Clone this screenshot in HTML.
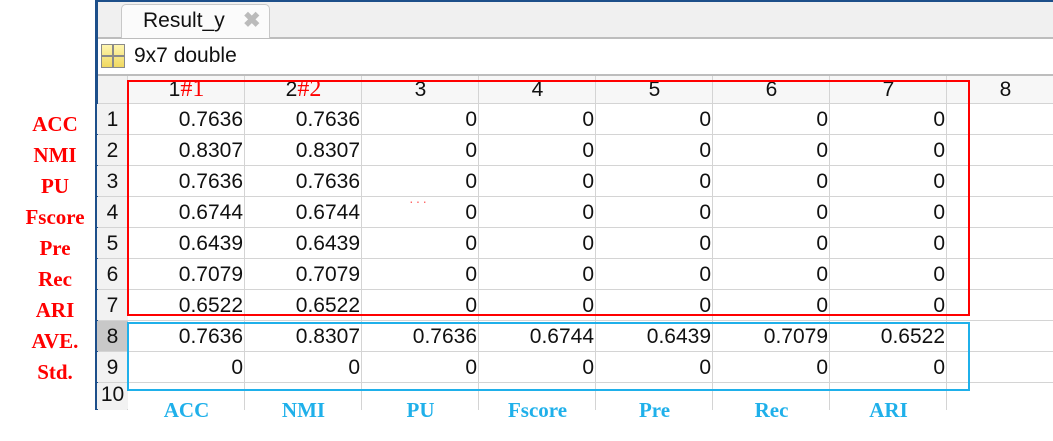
<!DOCTYPE html>
<html><head><meta charset="utf-8"><style>
body{margin:0;width:1053px;height:441px;background:#fff;position:relative;overflow:hidden;font-family:"Liberation Sans",sans-serif}
.a{position:absolute}
.cell{position:absolute;font-size:21px;color:#111;text-align:right;box-sizing:border-box;padding-right:2px;line-height:31px}
.rh{position:absolute;left:97px;width:31px;text-align:center;font-size:21px;line-height:31px;color:#111;background:#f2f2f2}
.vl{position:absolute;width:1px;background:#d4d4d4}
.hl{position:absolute;height:1px;background:#d4d4d4}
.lbl{position:absolute;font-family:"Liberation Serif",serif;font-weight:bold;font-size:21px;color:#f00;text-align:center;width:100px;left:5px}
.blbl{position:absolute;font-family:"Liberation Serif",serif;font-weight:bold;font-size:21px;color:#1fb0ea;text-align:center;width:117px;top:398px}
</style></head><body>
<div class="a" style="left:95px;top:0;width:958px;height:2px;background:#1d4f8a"></div>
<div class="a" style="left:95px;top:0;width:3px;height:410px;background:#1d4f8a"></div>
<div class="a" style="left:98px;top:2px;width:955px;height:35px;background:#f0f0f0;border-bottom:2px solid #bdbdbd"></div>
<div class="a" style="left:121px;top:4px;width:149px;height:34px;background:#fbfbfb;border:1px solid #c8c8c8;border-bottom:none;border-radius:5px 5px 0 0;box-sizing:border-box">
 <span class="a" style="left:21px;top:4px;font-size:21px;color:#111">Result_y</span>
 <span class="a" style="left:121px;top:3px;font-size:21px;color:#bbb;font-weight:bold">✖</span>
</div>
<div class="a" style="left:101px;top:44px;width:24px;height:24px;background:linear-gradient(#fff6b0,#f0d860);border:1px solid #8a8a8a;box-sizing:border-box">
 <div class="a" style="left:10px;top:0;width:2px;height:22px;background:#8a8a8a"></div>
 <div class="a" style="left:0;top:10px;width:22px;height:2px;background:#8a8a8a"></div>
</div>
<div class="a" style="left:134px;top:44px;font-size:21px;color:#111">9x7 double</div>
<div class="a" style="left:98px;top:74px;width:955px;height:2px;background:#bdbdbd"></div>
<div class="a" style="left:98px;top:76px;width:955px;height:28px;background:#f7f7f7"></div>
<div class="a" style="left:98px;top:76px;width:30px;height:334px;background:#f2f2f2"></div>
<div id="grid"></div>
<div class="a" style="left:127px;top:80px;width:843px;height:236px;border:2px solid #f00;box-sizing:border-box"></div>
<div class="a" style="left:127px;top:322px;width:843px;height:69px;border:2px solid #1fb0ea;box-sizing:border-box"></div>
<div class="a" style="left:409px;top:193px;font-size:14px;color:#f66;letter-spacing:2px">···</div>
<script>
const metrics=["ACC","NMI","PU","Fscore","Pre","Rec","ARI"];
const rowLabels=["ACC","NMI","PU","Fscore","Pre","Rec","ARI","AVE.","Std."];
const col1=["0.7636","0.8307","0.7636","0.6744","0.6439","0.7079","0.6522"];
const ave=["0.7636","0.8307","0.7636","0.6744","0.6439","0.7079","0.6522"];
const colW=117,x0=128,y0=104,rh=31;
const g=document.getElementById('grid');
function add(cls,style,txt,name){const d=document.createElement('div');d.className=cls;d.setAttribute('style',style);if(txt!==undefined)d.innerHTML=txt;


g.appendChild(d);return d;}
for(let c=0;c<=8;c++){const x=x0+c*colW;add('vl','left:'+(x-1)+'px;top:76px;height:334px',undefined,'column-divider');}
for(let r=0;r<=9;r++){add('hl','left:98px;top:'+(y0+r*rh-1)+'px;width:955px',undefined,'row-divider');}
for(let c=0;c<8;c++){let t=String(c+1);if(c==0)t+='<span style="font-family:Liberation Serif,serif;color:#f00;font-size:24px">#1</span>';if(c==1)t+='<span style="font-family:Liberation Serif,serif;color:#f00;font-size:24px">#2</span>';
const d=add('cell','left:'+(x0+c*colW)+'px;top:74px;width:'+colW+'px;text-align:center;padding:0',t,'column-header');}
for(let r=0;r<10;r++){const d=add('rh','top:'+(y0+r*rh)+'px;height:30px;'+(r==7?'background:#c8c8c8;':'')+(r==9?'line-height:24px;height:26px':''),String(r+1),'row-header');}
for(let r=0;r<9;r++){for(let c=0;c<7;c++){let v;
 if(r<7)v=(c<2)?col1[r]:"0";else if(r==7)v=ave[c];else v="0";
 add('cell','left:'+(x0+c*colW)+'px;top:'+(y0+r*rh)+'px;width:'+colW+'px',v,'data-cell');}}
for(let r=0;r<9;r++){add('lbl','top:'+(y0+r*rh+8)+'px',rowLabels[r],'row-label');}
for(let c=0;c<7;c++){add('blbl','left:'+(x0+c*colW)+'px',metrics[c],'column-metric-label');}
</script>
</body></html>
